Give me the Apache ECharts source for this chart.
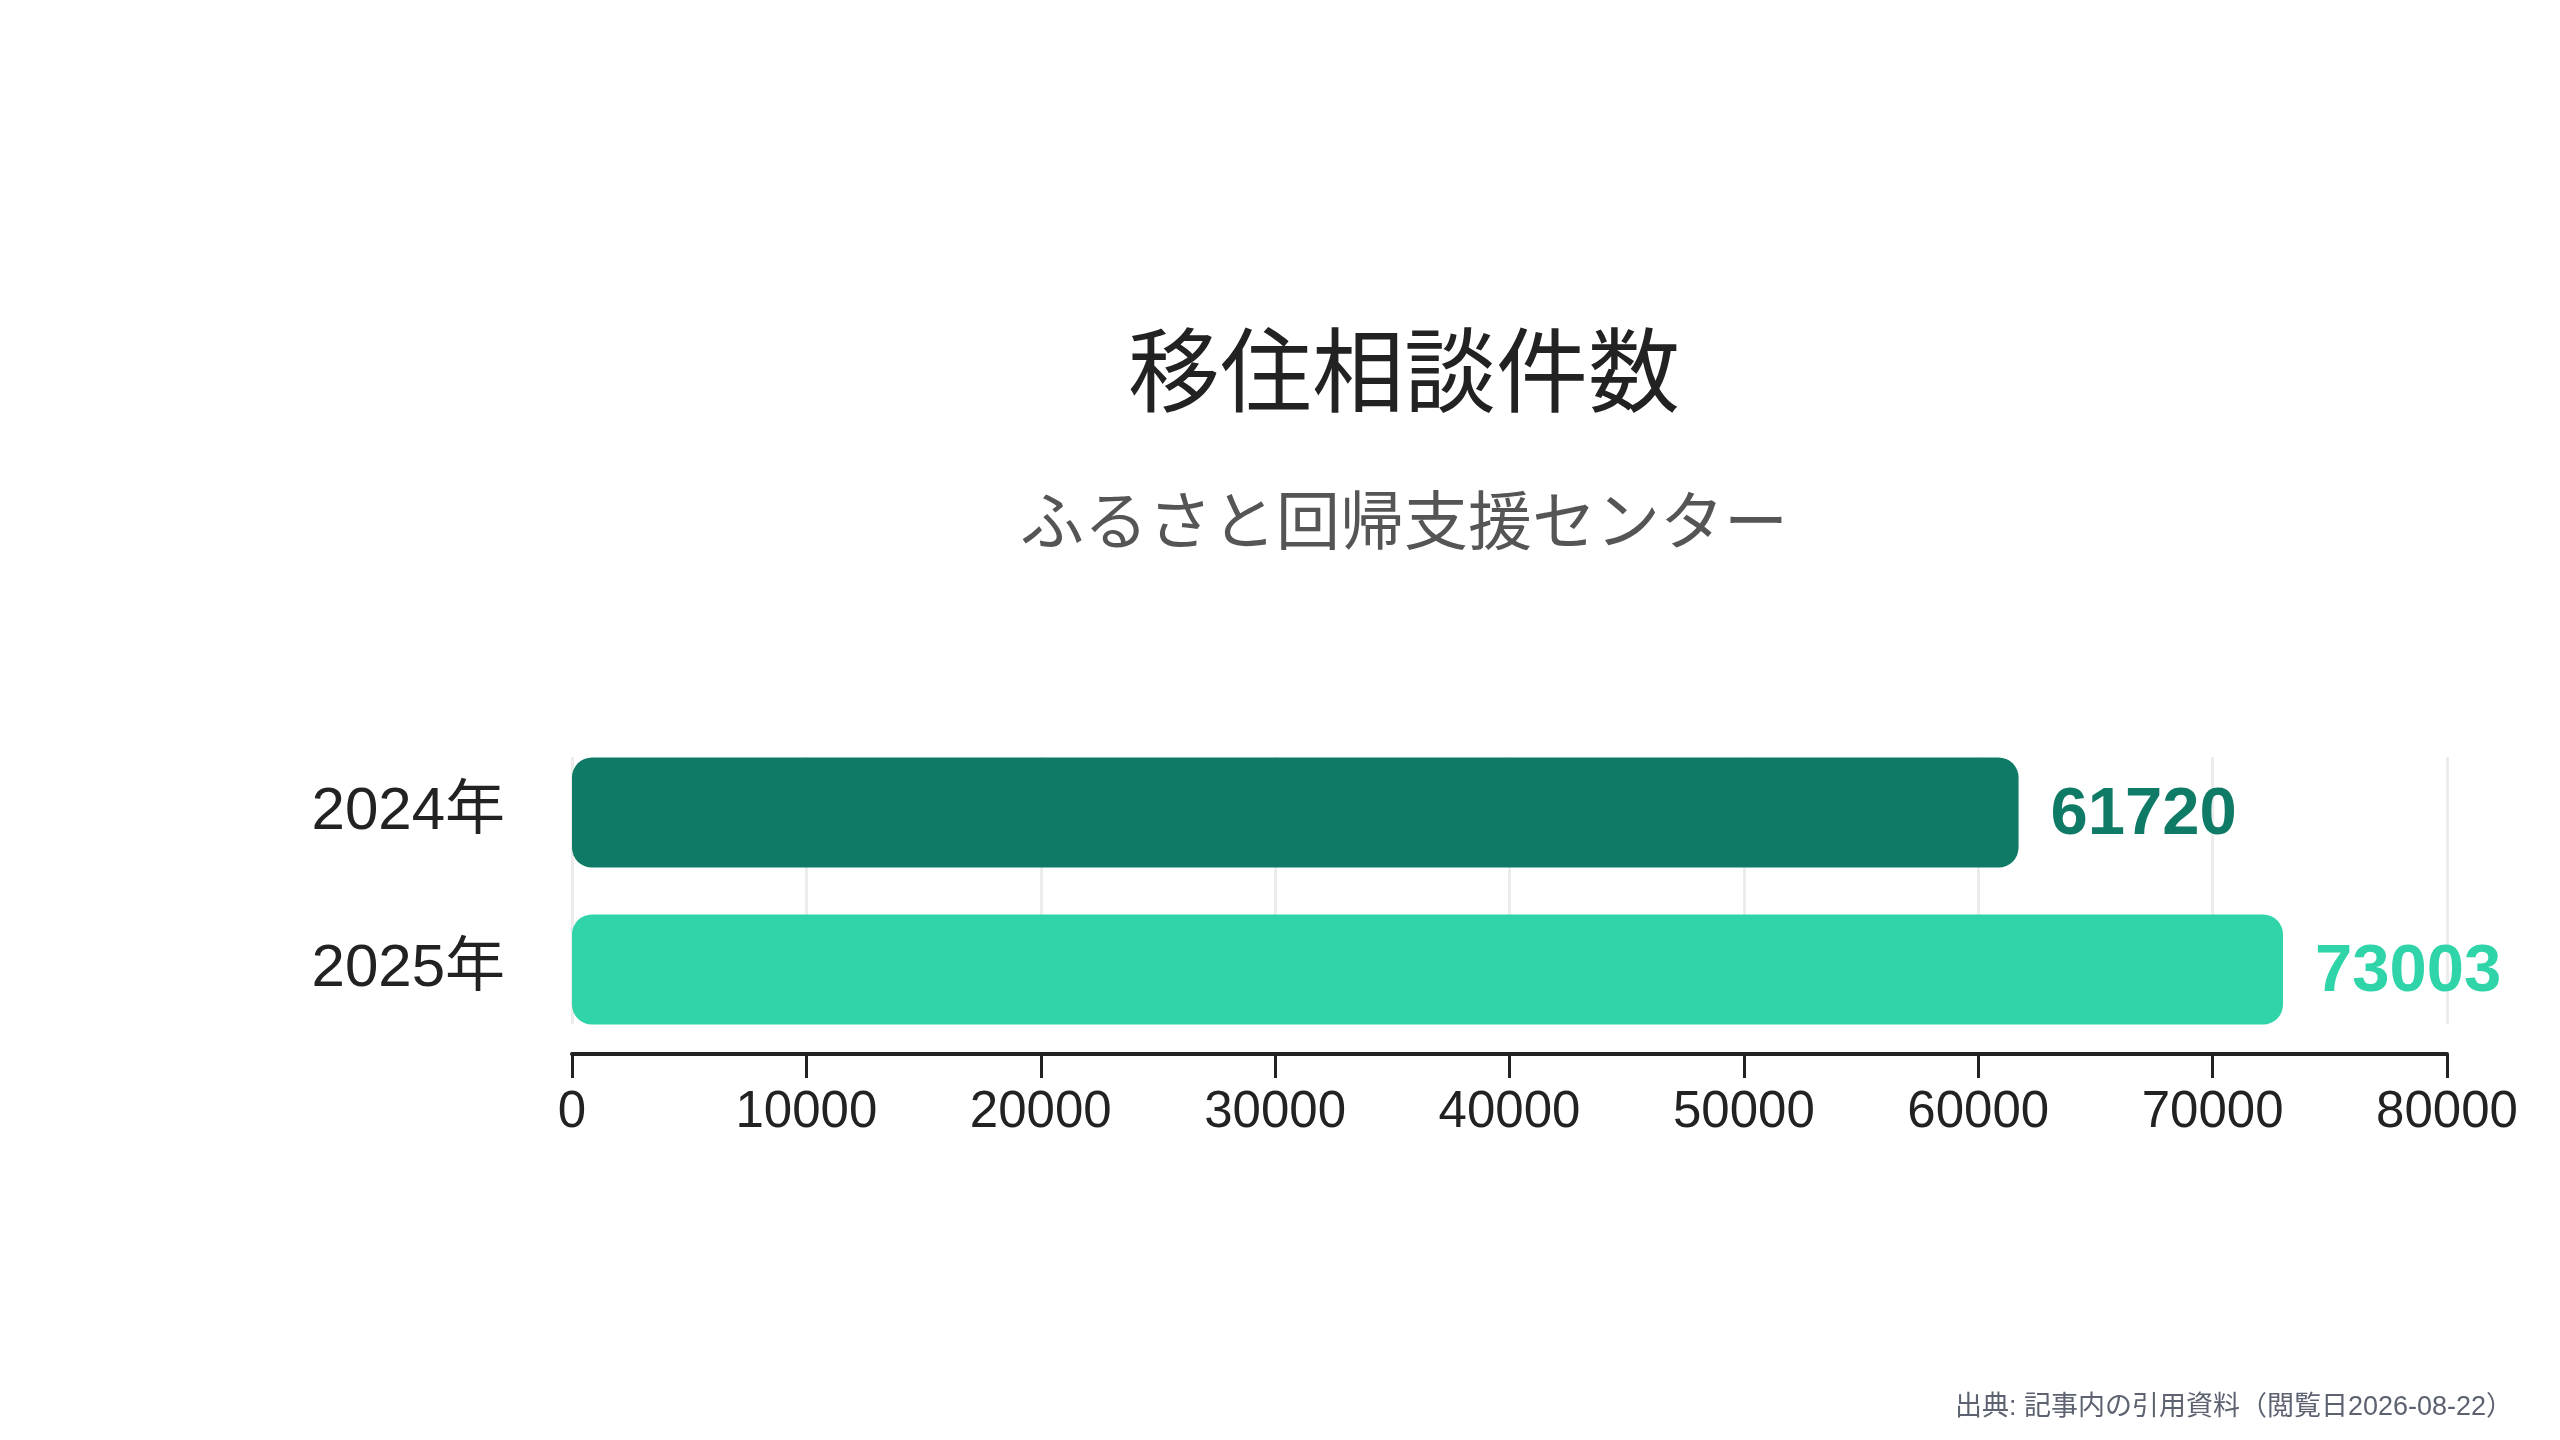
<!DOCTYPE html>
<html>
<head>
<meta charset="utf-8">
<style>
html,body{margin:0;padding:0;background:#ffffff;}
#chart{width:2560px;height:1440px;}
</style>
<script src="https://cdn.jsdelivr.net/npm/echarts@6/dist/echarts.min.js"></script>
</head>
<body>
<div id="chart"></div>
<script>
const titleText = '移住相談件数';
const subtitleText = 'ふるさと回帰支援センター';
const sourceText = '出典: 記事内の引用資料（閲覧日2026-08-22）';
const categories = ['2024年', '2025年'];
const values = [61720, 73003];
const axisMin = 0;
const axisMax = 80000;
const axisStep = 10000;

const palette = ['#0f7a66', '#2fd5a8'];
const FONT = '"Liberation Sans", "Noto Sans CJK JP", sans-serif';
const CJK = '"Noto Sans CJK JP", "Noto Sans", sans-serif';

const chart = echarts.init(document.getElementById('chart'), null, {renderer: 'canvas'});

const option = {
  backgroundColor: '#ffffff',
  animation: false,
  textStyle: {fontFamily: FONT},
  grid: [
    {left: 572, right: 113, top: 734, height: 314, containLabel: false},
    {left: 572, right: 113, top: 757, height: 267, containLabel: false}
  ],
  xAxis: [
    {
      gridIndex: 0, type: 'value', min: axisMin, max: axisMax, interval: axisStep,
      offset: 6,
      axisLine: {show: true, lineStyle: {color: '#222222', width: 4}},
      axisTick: {show: true, length: 24, lineStyle: {color: '#222222', width: 3}},
      axisLabel: {show: true, fontSize: 51, color: '#222222', margin: 33, fontFamily: FONT,
                  formatter: v => String(v)},
      splitLine: {show: false}
    },
    {
      gridIndex: 1, type: 'value', min: axisMin, max: axisMax, interval: axisStep,
      axisLine: {show: false}, axisTick: {show: false}, axisLabel: {show: false},
      splitLine: {show: true, lineStyle: {color: '#ececec', width: 3}}
    }
  ],
  yAxis: [
    {
      gridIndex: 0, type: 'category', data: categories, inverse: true,
      axisLine: {show: false}, axisTick: {show: false},
      axisLabel: {fontSize: 60, color: '#222222', margin: 67, fontFamily: FONT},
      splitLine: {show: false}
    },
    {
      gridIndex: 1, type: 'category', data: categories, inverse: true, show: false
    }
  ],
  series: [
    {
      type: 'bar', xAxisIndex: 0, yAxisIndex: 0,
      barWidth: 110,
      data: values.map((v, i) => ({
        value: v,
        itemStyle: {color: palette[i], borderRadius: 20},
        label: {color: palette[i]}
      })),
      label: {
        show: true, position: 'right', distance: 32, offset: [0, 3],
        fontSize: 67, fontWeight: 'bold', fontFamily: FONT
      },
      z: 3
    }
  ],
  graphic: [
    {
      type: 'text', x: 1404, y: 370,
      style: {text: titleText, fontSize: 92, fill: '#222222', fontFamily: CJK,
              align: 'center', verticalAlign: 'middle'}
    },
    {
      type: 'text', x: 1404, y: 520,
      style: {text: subtitleText, fontSize: 64, fill: '#555555', fontFamily: CJK,
              align: 'center', verticalAlign: 'middle'}
    },
    {
      type: 'text', x: 2513, y: 1408,
      style: {text: sourceText, fontSize: 27, fill: '#5c6270', fontFamily: FONT,
              align: 'right', verticalAlign: 'middle'}
    }
  ]
};
chart.setOption(option);
</script>
</body>
</html>
